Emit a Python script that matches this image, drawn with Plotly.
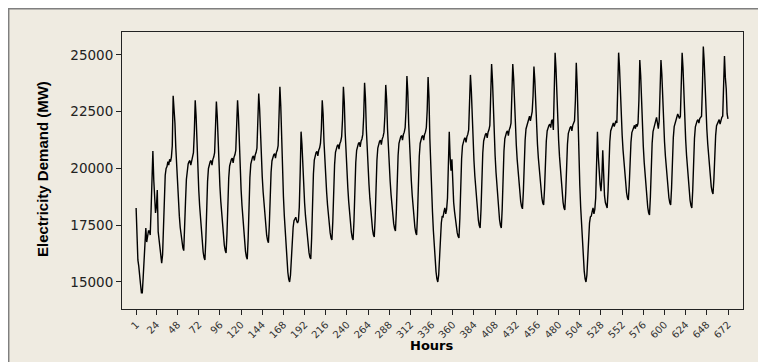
import plotly.graph_objects as go

# Hourly electricity demand (MW), one list of 24 hourly readings per day
day01 = [18260,16500,15970,15700,15400,14900,14520,14520,15200,16200,16900,17380,16760,17000,17250,17250,17070,18200,20300,20770,19500,18800,18040,18300]
day02 = [19050,17220,16800,16400,16100,15830,16200,17500,18800,19700,20000,20080,20300,20150,20400,20300,20500,21000,23200,22700,22000,20900,20000,19200]
day03 = [18500,17900,17400,17000,16700,16500,16380,17160,18540,19520,20030,20200,20300,20350,20150,20400,20500,20700,21590,23000,22300,20890,19840,19060]
day04 = [18360,17730,17170,16670,16320,16070,15970,16840,18350,19430,20000,20200,20300,20350,20150,20400,20500,20700,21490,22950,22280,20950,19950,19220]
day05 = [18550,17950,17410,16950,16620,16380,16280,17100,18550,19580,20110,20300,20400,20450,20250,20500,20600,20800,21570,23000,22300,20900,19850,19080]
day06 = [18380,17750,17190,16700,16350,16110,16000,16900,18480,19600,20190,20400,20500,20550,20350,20600,20700,20900,21760,23300,22640,21330,20340,19620]
day07 = [18960,18370,17850,17390,17060,16830,16730,17500,18860,19830,20330,20500,20600,20650,20450,20700,20800,21000,21950,23600,22740,21020,19730,18780]
day08 = [17920,17150,16460,15860,15430,15130,15000,15300,16000,16900,17400,17700,17800,17850,17700,17600,17700,18300,19800,21620,21060,19940,19100,18480]
day09 = [17920,17410,16960,16570,16290,16090,16010,16950,18590,19760,20370,20600,20700,20750,20550,20800,20900,21100,21740,23000,22390,21160,20230,19560]
day10 = [18940,18390,17900,17470,17160,16940,16850,17680,19130,20170,20710,20900,21000,21050,20850,21100,21200,21400,22170,23600,22930,21580,20560,19820]
day11 = [19150,18540,18000,17530,17190,16950,16850,17700,19190,20250,20800,21000,21100,21150,20950,21200,21300,21500,22300,23770,23090,21730,20710,19970]
day12 = [19290,18680,18130,17660,17320,17080,16980,17820,19300,20360,20900,21100,21200,21250,21050,21300,21400,21600,22320,23680,23040,21750,20790,20080]
day13 = [19440,18860,18340,17890,17570,17350,17250,18080,19530,20570,21110,21300,21400,21450,21250,21500,21600,21800,22600,24070,23370,21970,20920,20150]
day14 = [19450,18820,18260,17770,17420,17180,17070,17940,19450,20530,21100,21300,21400,21450,21250,21500,21600,21800,22580,24030,23130,21320,19970,18970]
day15 = [18070,17260,16540,15900,15450,15140,15000,15300,16100,17000,17600,17900,17870,18100,18260,18000,18200,18700,20000,21620,20500,19900,20400,19000]
day16 = [18500,18100,17730,17400,17170,17010,16940,17810,19340,20430,21000,21200,21300,21350,21150,21400,21500,21700,22570,24120,23450,22100,21090,20350]
day17 = [19670,19070,18530,18050,17720,17480,17380,18200,19650,20680,21210,21400,21500,21550,21350,21600,21700,21900,22900,24600,23880,22430,21350,20560]
day18 = [19830,19190,18610,18100,17740,17490,17380,18220,19700,20760,21310,21500,21600,21650,21450,21700,21800,22000,22950,24600,23960,22690,21730,21030]
day19 = [20390,19820,19300,18860,18540,18320,18220,18980,20300,21240,21740,21900,22000,22200,22300,22100,22300,22500,23200,24490,23880,22660,21750,21070]
day20 = [20460,19920,19430,18900,18700,18480,18390,19090,20320,21200,21650,21800,21900,21950,21800,22100,22150,21700,23200,25090,24400,23010,21980,21220]
day21 = [20520,19900,19350,18860,18520,18270,18170,18900,20170,21070,21550,21700,21800,21850,21650,21900,22000,22100,23000,24650,23690,21760,20310,19250]
day22 = [18280,17410,16640,15970,15480,15140,15000,15300,16100,17000,17600,17870,17900,18100,18260,18000,18200,18700,20000,21620,20500,19800,19300,19000]
day23 = [19600,20800,19200,18800,18500,18320,18260,19000,20260,21170,21650,21800,21900,22000,21850,22000,22100,22000,23300,25100,24450,23150,22180,21470]
day24 = [20820,20230,19710,19260,18930,18710,18610,19250,20360,21160,21580,21700,21800,21900,21750,21950,21850,22000,23000,24780,24100,22730,21710,20960]
day25 = [20270,19660,19110,18630,18290,18050,17950,18740,20120,21110,21620,21800,21900,22100,22250,22000,21750,22100,23200,24780,24140,22860,21900,21200]
day26 = [20560,19990,19480,19030,18710,18490,18390,19130,20430,21360,21840,22000,22100,22200,22400,22300,22200,22300,23500,25090,24410,23040,22020,21270]
day27 = [20580,19970,19420,18940,18600,18360,18260,19030,20370,21330,21830,22000,22100,22150,22000,22200,22250,22300,23600,25370,24720,23420,22450,21740]
day28 = [21090,20500,19980,19530,19200,18980,18880,19520,20650,21460,21880,22000,22100,22150,21950,22200,22250,22300,23400,24950,24000,23500,22400,22180]

days = [day01, day02, day03, day04, day05, day06, day07, day08, day09, day10,
        day11, day12, day13, day14, day15, day16, day17, day18, day19, day20,
        day21, day22, day23, day24, day25, day26, day27, day28]
demand = [v for d in days for v in d]
hours = list(range(1, len(demand) + 1))

x_ticks = [1, 24, 48, 72, 96, 120, 144, 168, 192, 216, 240, 264, 288, 312, 336,
           360, 384, 408, 432, 456, 480, 504, 528, 552, 576, 600, 624, 648, 672]
y_ticks = [15000, 17500, 20000, 22500, 25000]

fig = go.Figure()
fig.add_trace(go.Scatter(x=hours, y=demand, mode="lines",
                         line=dict(color="black", width=1.4), hoverinfo="skip"))

# the page body adds an 8px offset; figure coordinates below are page coords - 8
OFF = 8
W, H = 766 - OFF, 362 - OFF
L = 122 - OFF
T = 32 - OFF
R = W - (743 - OFF)
B = H - (309 - OFF)
pw, ph = W - L - R, H - T - B

def px(xp):
    return (xp - OFF - L) / pw

def py(yp):
    return (H - B - (yp - OFF)) / ph

fig.add_shape(type="rect", xref="paper", yref="paper",
              x0=px(8.7), x1=px(762), y0=py(380), y1=py(8.7),
              fillcolor="#EFEBE1", line=dict(color="#7f7f7f", width=1.5),
              layer="below")

fig.update_layout(
    width=W, height=H,
    margin=dict(l=L, r=R, t=T, b=B),
    paper_bgcolor="white", plot_bgcolor="white",
    showlegend=False,
    font=dict(family="DejaVu Sans", color="#222222"),
    xaxis=dict(range=[-15, 689], tickmode="array", tickvals=x_ticks,
               ticktext=[str(t) for t in x_ticks], tickangle=-45,
               ticks="outside", ticklen=5, tickcolor="#222222",
               tickfont=dict(size=10, color="#333333"),
               showgrid=False, zeroline=False, showline=True,
               linecolor="#222222", linewidth=1, mirror=True),
    yaxis=dict(range=[13810, 26010], tickmode="array", tickvals=y_ticks,
               ticktext=[str(t) for t in y_ticks],
               ticks="outside", ticklen=5, tickcolor="#222222",
               tickfont=dict(size=13.5, color="#222222"),
               showgrid=False, zeroline=False, showline=True,
               linecolor="#222222", linewidth=1, mirror=True),
    annotations=[
        dict(text="<b>Electricity Demand (MW)</b>", xref="paper", yref="paper",
             x=px(42), y=py(169), textangle=-90, showarrow=False,
             xanchor="center", yanchor="middle",
             font=dict(family="Liberation Sans Narrow, Liberation Sans", size=15, color="black")),
        dict(text="<b>Hours</b>", xref="paper", yref="paper",
             x=px(431), y=py(345), showarrow=False,
             xanchor="center", yanchor="middle",
             font=dict(family="DejaVu Sans", size=13, color="black")),
    ],
)

fig.write_html("out.html")
